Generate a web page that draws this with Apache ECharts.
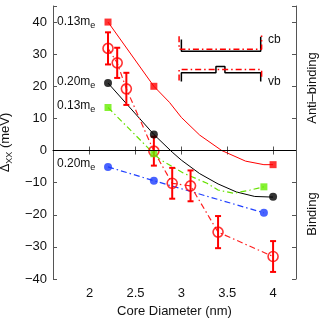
<!DOCTYPE html>
<html>
<head>
<meta charset="utf-8">
<script src="https://cdn.jsdelivr.net/npm/echarts@6/dist/echarts.min.js"></script>
<style>
html, body { margin: 0; padding: 0; background: #fff; }
#chart { width: 323px; height: 324px; }
</style>
</head>
<body>
<div id="chart"></div>
<script>
// x ticks
const xTicks = [2, 2.5, 3, 3.5, 4];

// theory points
const sqRed = [[2.2, 40], [2.7, 20], [4.0, -4.4]];
const dotBlack = [[2.2, 21], [2.7, 5], [4.0, -14.4]];
const sqGreen = [[2.2, 13.4], [2.7, -1], [3.9, -11.3]];
const dotBlue = [[2.2, -5.1], [2.7, -9.4], [3.9, -19.4]];

// fitted curves
const fitRed = [[2.2, 40], [2.7, 20], [2.87, 15], [3.0, 10.3], [3.2, 4.8], [3.44, 0], [3.7, -3.3], [3.9, -4.4], [4.0, -4.4]];
const fitBlack = [[2.2, 21], [2.7, 5], [2.9, -0.5], [3.0, -3], [3.2, -7.2], [3.4, -10.4], [3.6, -12.9], [3.8, -14.3], [4.0, -14.5]];
const fitGreen = [[2.2, 13.4], [2.7, -1], [2.77, -2.8], [3.02, -7], [3.28, -10.2], [3.4, -12.3], [3.57, -13.3], [3.75, -12.3], [3.9, -11.3]];

// experiment
const expX = [2.2, 2.3, 2.4, 2.7, 2.9, 3.1, 3.4, 4.0];
const expY = [31.8, 27.3, 19.2, -0.2, -10.2, -11, -25.4, -33];
const expErr = [5, 4.7, 5, 4.5, 4.8, 4.8, 5, 4.8];

// inset band sketch
const cbBlack = [[3.0, 34.6], [3.0, 30.9], [3.865, 30.9], [3.865, 35.4]];
const cbRed = [[2.975, 35.6], [2.975, 31.5], [3.875, 31.5], [3.875, 35.8]];
const vbBlack = [[3.0, 21.5], [3.0, 24.2], [3.377, 24.2], [3.377, 26.2], [3.475, 26.2], [3.475, 24.2], [3.865, 24.2], [3.865, 21.5]];
const vbRed = [[2.975, 21.8], [2.975, 25.2], [3.875, 25.2], [3.875, 22]];

const expPts = expX.map((x, i) => [x, expY[i]]);
const errPts = expX.map((x, i) => [x, expY[i] - expErr[i], expY[i] + expErr[i]]);

const FONT = 'Liberation Sans';
const dashDot = [6, 3, 1.5, 3];
const axisCol = '#555';

const myChart = echarts.init(document.getElementById('chart'));

function massLabel(txt, y) {
    return {
        type: 'text', left: 57, top: y,
        style: {
            text: '{m|' + txt + '}{e|e}',
            rich: {
                m: { fontFamily: FONT, fontSize: 12, fill: '#111' },
                e: { fontFamily: FONT, fontSize: 9, fill: '#111', padding: [8, 0, 0, 0] }
            }
        }
    };
}

function plainLine(data, color, type, width) {
    return {
        type: 'line', data: data, showSymbol: false, symbol: 'none', silent: true,
        lineStyle: { color: color, type: type, width: width }, z: 2
    };
}

const option = {
    animation: false,
    backgroundColor: '#fff',
    grid: { left: 53, right: 27, top: 6, bottom: 45, containLabel: false, outerBoundsMode: 'none' },
    xAxis: [
        {
            type: 'value', min: 1.6, max: 4.25,
            name: 'Core Diameter (nm)', nameLocation: 'middle', nameGap: 26,
            nameTextStyle: { fontFamily: FONT, fontSize: 13, color: '#111' },
            axisLine: { lineStyle: { color: axisCol } },
            axisTick: { inside: true, length: 4, customValues: xTicks, lineStyle: { color: axisCol } },
            axisLabel: { customValues: xTicks, fontFamily: FONT, fontSize: 13, color: '#111', margin: 8 },
            splitLine: { show: false }
        },
        {
            type: 'value', min: 1.6, max: 4.25, position: 'top',
            axisLine: { lineStyle: { color: axisCol } },
            axisTick: { inside: true, length: 4, customValues: xTicks, lineStyle: { color: axisCol } },
            axisLabel: { show: false },
            splitLine: { show: false }
        }
    ],
    yAxis: [
        {
            type: 'value', min: -40, max: 45, interval: 10,
            name: '{a|Δ}{s|XX}{a| (meV)}', nameLocation: 'middle', nameGap: 32,
            nameTextStyle: {
                rich: {
                    a: { fontFamily: FONT, fontSize: 13, color: '#111' },
                    s: { fontFamily: FONT, fontSize: 9, color: '#111', padding: [8, 0, 0, 0] }
                }
            },
            axisLine: { lineStyle: { color: axisCol } },
            axisTick: { inside: true, length: 4, lineStyle: { color: axisCol } },
            axisLabel: {
                fontFamily: FONT, fontSize: 13, color: '#111', margin: 6,
                formatter: function (v) {
                    return v % 10 === 0 ? String(v).replace('-', '\u2212') : '';
                }
            },
            splitLine: { show: false }
        },
        {
            type: 'value', min: -40, max: 45, interval: 10, position: 'right',
            axisLine: { lineStyle: { color: axisCol } },
            axisTick: { inside: true, length: 4, lineStyle: { color: axisCol } },
            axisLabel: { show: false },
            splitLine: { show: false }
        }
    ],
    graphic: [
        massLabel('0.13m', 16),
        massLabel('0.20m', 76),
        massLabel('0.13m', 100),
        massLabel('0.20m', 158),
        { type: 'text', left: 268, top: 34, style: { text: 'cb', fontFamily: FONT, fontSize: 12, fill: '#111' } },
        { type: 'text', left: 268, top: 76, style: { text: 'vb', fontFamily: FONT, fontSize: 12, fill: '#111' } },
        {
            type: 'text', x: 312, y: 88, rotation: Math.PI / 2,
            style: { text: 'Anti\u2013binding', fontFamily: FONT, fontSize: 13, fill: '#111', align: 'center', verticalAlign: 'middle' }
        },
        {
            type: 'text', x: 312, y: 214, rotation: Math.PI / 2,
            style: { text: 'Binding', fontFamily: FONT, fontSize: 13, fill: '#111', align: 'center', verticalAlign: 'middle' }
        }
    ],
    series: [
        {
            type: 'line', data: [], silent: true,
            markLine: {
                symbol: ['none', 'none'], silent: true, label: { show: false },
                lineStyle: { color: '#000', type: 'solid', width: 1 },
                data: [{ yAxis: 0 }]
            }
        },
        plainLine(fitRed, '#ff0000', 'solid', 1),
        plainLine(fitBlack, '#000', 'solid', 1),
        plainLine(fitGreen, '#66e000', dashDot, 1.2),
        plainLine(dotBlue, '#2040ff', dashDot, 1.2),
        plainLine(expPts, '#ff2020', dashDot, 1.2),
        plainLine(cbBlack, '#000', 'solid', 1.5),
        plainLine(vbBlack, '#000', 'solid', 1.5),
        plainLine(cbRed, '#ff0000', dashDot, 1.5),
        plainLine(vbRed, '#ff0000', dashDot, 1.5),
        {
            type: 'custom', data: errPts, silent: true, z: 3,
            renderItem: function (params, api) {
                const x = api.value(0);
                const lo = api.coord([x, api.value(1)]);
                const hi = api.coord([x, api.value(2)]);
                const st = { stroke: '#ff0000', lineWidth: 2 };
                return {
                    type: 'group',
                    children: [
                        { type: 'line', shape: { x1: lo[0], y1: lo[1], x2: hi[0], y2: hi[1] }, style: st },
                        { type: 'line', shape: { x1: lo[0] - 3, y1: lo[1], x2: lo[0] + 3, y2: lo[1] }, style: st },
                        { type: 'line', shape: { x1: hi[0] - 3, y1: hi[1], x2: hi[0] + 3, y2: hi[1] }, style: st }
                    ]
                };
            }
        },
        {
            type: 'scatter', data: expPts, symbol: 'circle', symbolSize: 10, z: 4,
            itemStyle: { color: 'rgba(255,255,255,0)', borderColor: '#ff0000', borderWidth: 1.6 }
        },
        { type: 'scatter', data: sqRed, symbol: 'rect', symbolSize: 7, z: 4, itemStyle: { color: '#ff0000' } },
        { type: 'scatter', data: sqGreen, symbol: 'rect', symbolSize: 7, z: 4, itemStyle: { color: '#66ee00' } },
        { type: 'scatter', data: dotBlack, symbol: 'circle', symbolSize: 8, z: 4, itemStyle: { color: '#000' } },
        { type: 'scatter', data: dotBlue, symbol: 'circle', symbolSize: 8, z: 4, itemStyle: { color: '#1a3cff' } }
    ]
};

myChart.setOption(option);
window.onresize = myChart.resize;
</script>
</body>
</html>
